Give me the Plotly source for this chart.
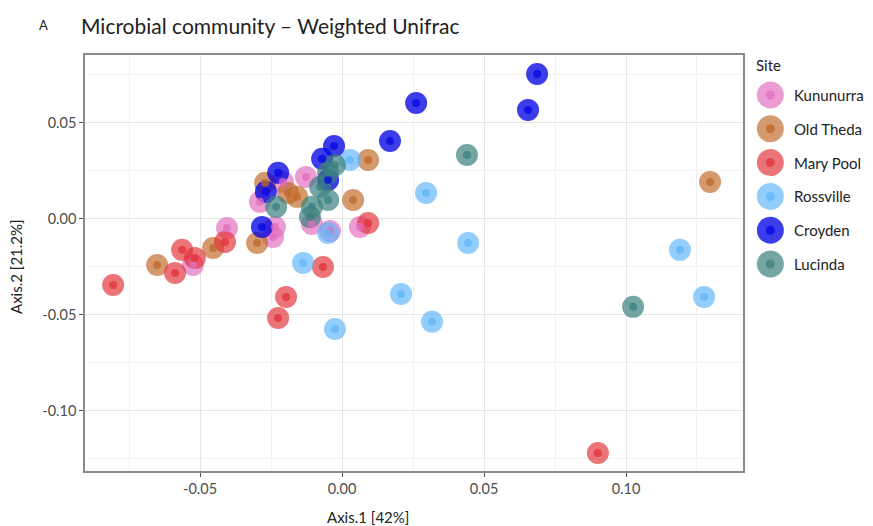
import plotly.graph_objects as go

sites = ["Kununurra", "Old Theda", "Mary Pool", "Rossville", "Croyden", "Lucinda"]
colors = {
    "Kununurra": (226, 110, 190),
    "Old Theda": (192, 104, 40),
    "Mary Pool": (225, 50, 58),
    "Rossville": (95, 182, 250),
    "Croyden": (5, 5, 225),
    "Lucinda": (58, 128, 126),
}

kununurra_x = [-0.0127, -0.0208, -0.0289, -0.0405, -0.0243, -0.0106, 0.0063, -0.0525, -0.0042, -0.0236]
kununurra_y = [0.0219, 0.0193, 0.0089, -0.0047, -0.0094, -0.0026, -0.0042, -0.0240, -0.0063, -0.0042]

oldtheda_x = [0.1296, 0.0092, -0.0158, 0.0039, -0.0299, -0.0454, -0.0651, -0.0271, -0.0190]
oldtheda_y = [0.0193, 0.0307, 0.0115, 0.0099, -0.0125, -0.0151, -0.0240, 0.0188, 0.0135]

marypool_x = [0.0901, 0.0092, -0.0412, -0.0518, -0.0563, -0.0588, -0.0806, -0.0067, -0.0197, -0.0225]
marypool_y = [-0.1219, -0.0021, -0.0120, -0.0203, -0.0161, -0.0281, -0.0344, -0.0250, -0.0406, -0.0516]

rossville_x = [0.0028, -0.0049, -0.0137, 0.0208, -0.0025, 0.0317, 0.0296, 0.0444, 0.1190, 0.1275]
rossville_y = [0.0307, -0.0073, -0.0229, -0.0391, -0.0573, -0.0536, 0.0135, -0.0125, -0.0161, -0.0406]

croyden_x = [0.0687, 0.0261, 0.0655, 0.0169, -0.0028, -0.0070, -0.0049, -0.0225, -0.0268, -0.0282]
croyden_y = [0.0755, 0.0604, 0.0568, 0.0406, 0.0380, 0.0313, 0.0203, 0.0240, 0.0141, -0.0042]

lucinda_x = [0.0440, 0.1025, -0.0025, -0.0049, -0.0077, -0.0049, -0.0106, -0.0113, -0.0232]
lucinda_y = [0.0333, -0.0458, 0.0281, 0.0240, 0.0167, 0.0099, 0.0063, 0.0010, 0.0063]

data = {
    "Kununurra": (kununurra_x, kununurra_y),
    "Old Theda": (oldtheda_x, oldtheda_y),
    "Mary Pool": (marypool_x, marypool_y),
    "Rossville": (rossville_x, rossville_y),
    "Croyden": (croyden_x, croyden_y),
    "Lucinda": (lucinda_x, lucinda_y),
}
alphas = {"Kununurra": 0.68, "Old Theda": 0.68, "Mary Pool": 0.68,
          "Rossville": 0.68, "Croyden": 0.78, "Lucinda": 0.7}

x_tickvals = [-0.05, 0.0, 0.05, 0.10]
x_ticktext = ["-0.05", "0.00", "0.05", "0.10"]
y_tickvals = [-0.10, -0.05, 0.0, 0.05]
y_ticktext = ["-0.10", "-0.05", "0.00", "0.05"]

title_text = "Microbial community \u2013 Weighted Unifrac"
panel_label = "A"
x_title = "Axis.1 [42%]"
y_title = "Axis.2 [21.2%]"
legend_title = "Site"

W, H = 873, 526
ML, MR, MT, MB = 85, 10, 55, 55
plot_w = W - ML - MR
main_right = (743 - ML) / plot_w

def rgba(c, a):
    return f"rgba({c[0]},{c[1]},{c[2]},{a})"

FONT = "Lato"
fig = go.Figure()

# big circles
for s in sites:
    xs, ys = data[s]
    fig.add_trace(go.Scatter(
        x=xs, y=ys, mode="markers", name=s, showlegend=False,
        marker=dict(size=22, color=rgba(colors[s], alphas[s]), line=dict(width=0)),
        hoverinfo="skip"))
# center dots
for s in sites:
    xs, ys = data[s]
    fig.add_trace(go.Scatter(
        x=xs, y=ys, mode="markers", name=s, showlegend=False,
        marker=dict(size=8, color=rgba(colors[s], 0.75), line=dict(width=0)),
        hoverinfo="skip"))

# manual legend in a secondary axis
leg_idx = list(range(len(sites)))
for i, s in zip(leg_idx, sites):
    fig.add_trace(go.Scatter(
        x=[0.15], y=[-i], xaxis="x2", yaxis="y2", mode="markers", showlegend=False,
        marker=dict(size=27, color=rgba(colors[s], alphas[s]), line=dict(width=0)),
        hoverinfo="skip"))
    fig.add_trace(go.Scatter(
        x=[0.15], y=[-i], xaxis="x2", yaxis="y2", mode="markers", showlegend=False,
        marker=dict(size=9, color=rgba(colors[s], 0.75), line=dict(width=0)),
        hoverinfo="skip"))

spacing = 33.8
top_val = (95 - MT) / spacing
bot_val = -(H - MB - 95) / spacing

grid_major = "#e6e6e6"
grid_minor = "#f1f1f1"

fig.update_layout(
    width=W, height=H,
    margin=dict(l=ML, r=MR, t=MT, b=MB),
    paper_bgcolor="white", plot_bgcolor="white",
    font=dict(family=FONT, size=13, color="#4d4d4d"),
    xaxis=dict(domain=[0, main_right], range=[-0.0905, 0.1412],
               tickvals=x_tickvals, ticktext=x_ticktext,
               showgrid=True, gridcolor=grid_major, gridwidth=1,
               minor=dict(dtick=0.05, tick0=0.025, showgrid=True, gridcolor=grid_minor, gridwidth=1, ticks=""),
               zeroline=False, showline=True, linecolor="#8a8a8a", linewidth=1.5, mirror=True,
               ticks="outside", ticklen=4, tickcolor="#555",
               tickfont=dict(family=FONT, size=14.5, color="#4d4d4d")),
    yaxis=dict(range=[-0.1313, 0.0854],
               tickvals=y_tickvals, ticktext=y_ticktext,
               showgrid=True, gridcolor=grid_major, gridwidth=1,
               minor=dict(dtick=0.05, tick0=0.025, showgrid=True, gridcolor=grid_minor, gridwidth=1, ticks=""),
               zeroline=False, showline=True, linecolor="#8a8a8a", linewidth=1.5, mirror=True,
               ticks="outside", ticklen=4, tickcolor="#555",
               tickfont=dict(family=FONT, size=14.5, color="#4d4d4d")),
    xaxis2=dict(domain=[(754 - ML) / plot_w, 1.0], range=[0, 1], visible=False, fixedrange=True),
    yaxis2=dict(domain=[0, 1], range=[bot_val, top_val], visible=False, fixedrange=True, anchor="x2"),
)

def px_x(p):
    return (p - ML) / plot_w

def px_y(p):
    return (H - MB - p) / (H - MT - MB)

annotations = [
    dict(text=panel_label, x=px_x(43), y=px_y(25), xref="paper", yref="paper", showarrow=False,
         xanchor="center", yanchor="middle", font=dict(family=FONT, size=13, color="#222")),
    dict(text=title_text, x=px_x(79), y=px_y(25), xref="paper", yref="paper", showarrow=False,
         xanchor="left", yanchor="middle", font=dict(family=FONT, size=21, color="#222")),
    dict(text=x_title, x=px_x(368), y=px_y(517), xref="paper", yref="paper", showarrow=False,
         xanchor="center", yanchor="middle", font=dict(family=FONT, size=15, color="#222")),
    dict(text=y_title, x=px_x(16), y=px_y(267), xref="paper", yref="paper", showarrow=False,
         textangle=-90, xanchor="center", yanchor="middle", font=dict(family=FONT, size=15, color="#222")),
    dict(text=legend_title, x=px_x(754), y=px_y(65), xref="paper", yref="paper", showarrow=False,
         xanchor="left", yanchor="middle", font=dict(family=FONT, size=15, color="#222")),
]
for i, s in zip(leg_idx, sites):
    annotations.append(dict(text=s, x=0.35, y=-i, xref="x2", yref="y2", showarrow=False,
                            xanchor="left", yanchor="middle",
                            font=dict(family=FONT, size=15, color="#222")))
fig.layout.annotations = annotations

fig.write_html("out.html")
